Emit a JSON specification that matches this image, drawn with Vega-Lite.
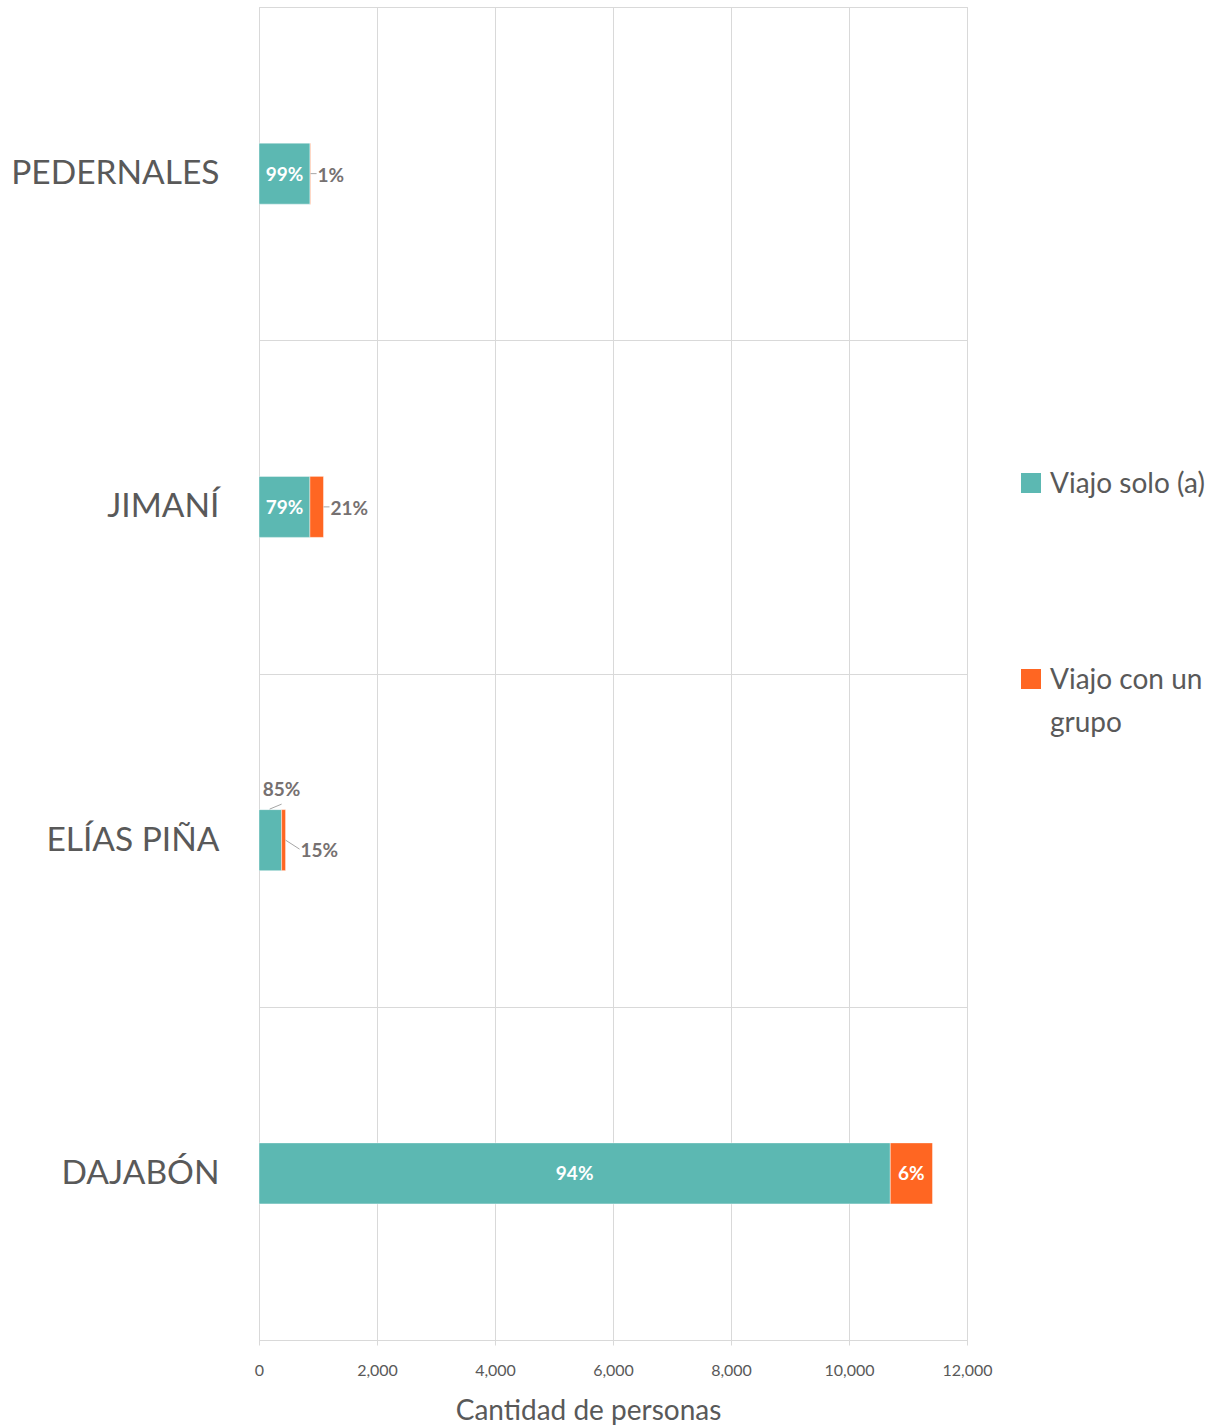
{
  "$schema": "https://vega.github.io/schema/vega-lite/v6.json",
  "autosize": {"type": "none"},
  "padding": {"left": 259, "top": 7, "right": 255, "bottom": 86},
  "width": 708,
  "height": 1333,
  "background": "white",
  "config": {
    "font": "Lato",
    "view": {"stroke": "#d9d9d9", "strokeWidth": 1},
    "style": {"guide-label": {"lineHeight": 43}}
  },
  "data": {
    "values": [
      {"puesto": "PEDERNALES", "tipo": "Viajo solo (a)", "valor": 865, "pct": "99%"},
      {"puesto": "PEDERNALES", "tipo": "Viajo con un grupo", "valor": 9, "pct": "1%"},
      {"puesto": "JIMANÍ", "tipo": "Viajo solo (a)", "valor": 863, "pct": "79%"},
      {"puesto": "JIMANÍ", "tipo": "Viajo con un grupo", "valor": 230, "pct": "21%"},
      {"puesto": "ELÍAS PIÑA", "tipo": "Viajo solo (a)", "valor": 383, "pct": "85%"},
      {"puesto": "ELÍAS PIÑA", "tipo": "Viajo con un grupo", "valor": 67, "pct": "15%"},
      {"puesto": "DAJABÓN", "tipo": "Viajo solo (a)", "valor": 10700, "pct": "94%"},
      {"puesto": "DAJABÓN", "tipo": "Viajo con un grupo", "valor": 715, "pct": "6%"}
    ]
  },
  "transform": [
    {"stack": "valor", "groupby": ["puesto"], "sort": [{"field": "tipo", "order": "descending"}], "as": ["x0", "x1"]}
  ],
  "encoding": {
    "y": {
      "field": "puesto", "type": "nominal",
      "sort": ["PEDERNALES", "JIMANÍ", "ELÍAS PIÑA", "DAJABÓN"],
      "scale": {"paddingInner": 0, "paddingOuter": 0},
      "axis": {
        "title": null, "tickBand": "extent", "grid": true, "gridColor": "#d9d9d9", "gridWidth": 1,
        "ticks": false, "domain": false, "labelFont": "Lato", "labelFontSize": 33.5, "labelColor": "#595959",
        "labelPadding": 40, "labelLimit": 300
      }
    }
  },
  "layer": [
    {
      "mark": {"type": "bar", "size": 61, "stroke": "white", "strokeWidth": 0.6, "strokeOpacity": 0.7},
      "encoding": {
        "x": {
          "field": "x0", "type": "quantitative",
          "scale": {"domain": [0, 12000], "nice": false},
          "axis": {
            "title": "Cantidad de personas", "values": [0, 2000, 4000, 6000, 8000, 10000, 12000],
            "format": ",d", "grid": true, "gridColor": "#d9d9d9", "domainColor": "#d9d9d9",
            "tickColor": "#d9d9d9", "tickSize": 5, "labelFont": "Lato", "labelFontSize": 16,
            "labelColor": "#595959", "labelPadding": 17, "labelFlush": false, "titleFont": "Lato", "titleFontSize": 28,
            "titleFontWeight": "normal", "titleColor": "#595959", "titlePadding": 19, "titleX": 329
          }
        },
        "x2": {"field": "x1"},
        "color": {
          "field": "tipo", "type": "nominal",
          "scale": {"domain": ["Viajo solo (a)", "Viajo con un grupo"], "range": ["#5CB8B2", "#FF6622"]},
          "legend": {
            "title": null, "orient": "none", "legendX": 758, "legendY": 472,
            "symbolType": "M-1,-2H1V0H-1Z", "symbolSize": 400, "symbolStrokeWidth": 0,
            "labelFont": "Lato", "labelFontSize": 28, "labelColor": "#595959",
            "labelOffset": 5, "rowPadding": 168, "labelLimit": 300,
            "labelBaseline": "alphabetic",
            "labelExpr": "datum.label == 'Viajo con un grupo' ? ['Viajo con un', 'grupo'] : datum.label"
          }
        }
      }
    },
    {
      "transform": [
        {"filter": "(datum.tipo == 'Viajo solo (a)' && datum.puesto != 'ELÍAS PIÑA') || datum.puesto == 'DAJABÓN'"},
        {"fold": ["x0", "x1"], "as": ["k", "pos"]}
      ],
      "mark": {"type": "text", "color": "white", "fontWeight": "bold", "fontSize": 19, "font": "Lato", "align": "center", "baseline": "middle", "dy": 1},
      "encoding": {
        "x": {"field": "pos", "aggregate": "mean", "type": "quantitative"},
        "detail": {"field": "tipo"},
        "text": {"field": "pct"}
      }
    },
    {
      "transform": [
        {"filter": "datum.tipo == 'Viajo con un grupo' && (datum.puesto == 'PEDERNALES' || datum.puesto == 'JIMANÍ')"}
      ],
      "mark": {"type": "text", "color": "#767171", "fontWeight": "bold", "fontSize": 19, "font": "Lato", "align": "left", "baseline": "middle", "dx": 7, "dy": 2},
      "encoding": {
        "x": {"field": "x1", "type": "quantitative"},
        "text": {"field": "pct"}
      }
    },
    {
      "transform": [
        {"filter": "datum.tipo == 'Viajo con un grupo' && (datum.puesto == 'PEDERNALES' || datum.puesto == 'JIMANÍ')"}
      ],
      "mark": {"type": "rule", "color": "#a6a6a6", "strokeWidth": 1, "x2Offset": 6},
      "encoding": {
        "x": {"field": "x1", "type": "quantitative"},
        "x2": {"field": "x1"}
      }
    },
    {
      "transform": [
        {"filter": "datum.tipo == 'Viajo solo (a)' && datum.puesto == 'ELÍAS PIÑA'"}
      ],
      "mark": {"type": "text", "color": "#767171", "fontWeight": "bold", "fontSize": 19, "font": "Lato", "align": "center", "baseline": "middle", "dy": -50},
      "encoding": {
        "x": {"field": "x1", "type": "quantitative"},
        "text": {"field": "pct"}
      }
    },
    {
      "transform": [
        {"filter": "datum.tipo == 'Viajo solo (a)' && datum.puesto == 'ELÍAS PIÑA'"}
      ],
      "mark": {"type": "rule", "color": "#a6a6a6", "strokeWidth": 1, "xOffset": -12, "yOffset": -31, "x2Offset": 0, "y2Offset": -36},
      "encoding": {
        "x": {"field": "x1", "type": "quantitative"},
        "x2": {"field": "x1"},
        "y2": {"field": "puesto"}
      }
    },
    {
      "transform": [
        {"filter": "datum.tipo == 'Viajo con un grupo' && datum.puesto == 'ELÍAS PIÑA'"}
      ],
      "mark": {"type": "text", "color": "#767171", "fontWeight": "bold", "fontSize": 19, "font": "Lato", "align": "left", "baseline": "middle", "dx": 15, "dy": 11},
      "encoding": {
        "x": {"field": "x1", "type": "quantitative"},
        "text": {"field": "pct"}
      }
    },
    {
      "transform": [
        {"filter": "datum.tipo == 'Viajo con un grupo' && datum.puesto == 'ELÍAS PIÑA'"}
      ],
      "mark": {"type": "rule", "color": "#a6a6a6", "strokeWidth": 1, "xOffset": 0, "yOffset": 0, "x2Offset": 14, "y2Offset": 9},
      "encoding": {
        "x": {"field": "x1", "type": "quantitative"},
        "x2": {"field": "x1"},
        "y2": {"field": "puesto"}
      }
    }
  ]
}
